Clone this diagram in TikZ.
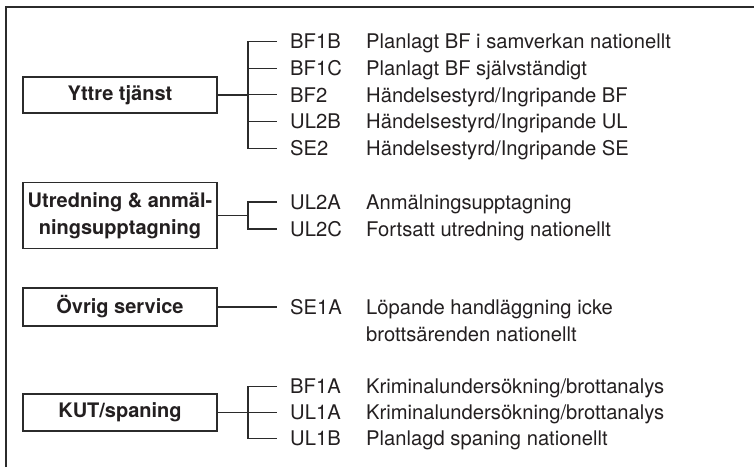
\documentclass[tikz,border=0pt]{standalone}
\usepackage{fontspec}
\setmainfont{TeX Gyre Heros}
\definecolor{ink}{HTML}{231F20}
\definecolor{rule}{HTML}{2B2B2B}
\tikzset{
  grp/.style={draw=rule, line width=1.2pt, minimum width=194pt, inner sep=0pt,
    font=\fontsize{20}{27}\selectfont\bfseries, text=ink, align=center},
  code/.style={anchor=west, inner sep=0pt, text height=14.4pt, text depth=0pt,
    font=\fontsize{20.2}{27}\selectfont, text=ink},
  desc/.style={code},
  conn/.style={draw=rule, line width=1.1pt},
  frame/.style={draw=rule, line width=1.8pt}
}
\begin{document}
\begin{tikzpicture}[x=1pt,y=-1pt]
\useasboundingbox (0,0) rectangle (754,467);
\draw[frame] (6,467) -- (6,7) -- (754,7);

% group boxes
\node[grp, minimum height=36pt] (yt) at (120,95) {Yttre tjänst};
\node[grp, minimum height=66pt] (ut) at (120,215.5) {Utredning \& anmäl-\\ningsupptagning};
\node[grp, minimum height=38pt] (ov) at (120,307) {Övrig service};
\node[grp, minimum height=37pt] (kut) at (120,412.5) {KUT/spaning};

% codes and descriptions
\def\cx{290}
\def\dx{366}
\node[code] (bf1b) at (\cx,41.5) {BF1B};  \node[desc] (dbf1b) at (\dx,41.5) {Planlagt BF i samverkan nationellt};
\node[code] (bf1c) at (\cx,68.2) {BF1C};  \node[desc] (dbf1c) at (\dx,68.2) {Planlagt BF självständigt};
\node[code] (bf2)  at (\cx,94.9) {BF2};   \node[desc] (dbf2)  at (\dx,94.9) {Händelsestyrd/Ingripande BF};
\node[code] (ul2b) at (\cx,121.6) {UL2B}; \node[desc] (dul2b) at (\dx,121.6) {Händelsestyrd/Ingripande UL};
\node[code] (se2)  at (\cx,148.3) {SE2};  \node[desc] (dse2)  at (\dx,148.3) {Händelsestyrd/Ingripande SE};

\node[code] (ul2a) at (\cx,202) {UL2A};   \node[desc] (dul2a) at (\dx,202) {Anmälningsupptagning};
\node[code] (ul2c) at (\cx,229) {UL2C};   \node[desc] (dul2c) at (\dx,229) {Fortsatt utredning nationellt};

\node[code] (se1a) at (\cx,307) {SE1A};   \node[desc] (dse1a) at (\dx,307) {Löpande handläggning icke};
\node[desc] (dse1b) at (\dx,334) {brottsärenden nationellt};

\node[code] (bf1a) at (\cx,386.5) {BF1A}; \node[desc] (dbf1a) at (\dx,386.5) {Kriminalundersökning/brottanalys};
\node[code] (ul1a) at (\cx,412.5) {UL1A}; \node[desc] (dul1a) at (\dx,412.5) {Kriminalundersökning/brottanalys};
\node[code] (ul1b) at (\cx,438.5) {UL1B}; \node[desc] (dul1b) at (\dx,438.5) {Planlagd spaning nationellt};

% junctions
\coordinate (j1) at (248,95);
\coordinate (j2) at (248,215.5);
\coordinate (j4) at (248,412.5);

% Yttre tjänst
\draw[conn] (yt.east) -- (j1);
\draw[conn] ([xshift=-13pt]bf1b.west) -| (j1) |- ([xshift=-13pt]se2.west);
\draw[conn] (j1 |- bf1c.west) -- ([xshift=-13pt]bf1c.west);
\draw[conn] (j1 |- bf2.west) -- ([xshift=-13pt]bf2.west);
\draw[conn] (j1 |- ul2b.west) -- ([xshift=-13pt]ul2b.west);

% Utredning
\draw[conn] (ut.east) -- (j2);
\draw[conn] ([xshift=-13pt]ul2a.west) -| (j2) |- ([xshift=-13pt]ul2c.west);

% Övrig service
\draw[conn] (ov.east) -- ([xshift=-13pt]se1a.west);

% KUT
\draw[conn] (kut.east) -- (j4);
\draw[conn] ([xshift=-13pt]bf1a.west) -| (j4) |- ([xshift=-13pt]ul1b.west);
\draw[conn] (j4) -- ([xshift=-13pt]ul1a.west);
\end{tikzpicture}
\end{document}
